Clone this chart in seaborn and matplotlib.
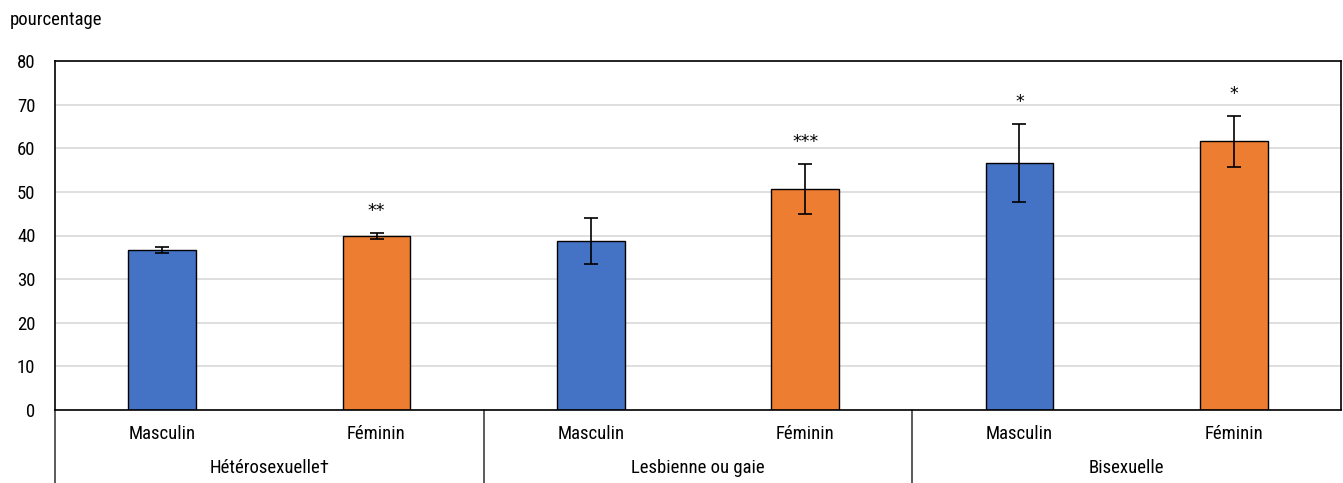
import matplotlib
matplotlib.use("Agg")
import matplotlib.pyplot as plt
import matplotlib.transforms as mtransforms
import seaborn as sns
import pandas as pd

# Data
groupes = ["Hétérosexuelle†", "Lesbienne ou gaie", "Bisexuelle"]
sexes = ["Masculin", "Féminin"]
valeurs = [36.6, 39.9, 38.7, 50.7, 56.6, 61.6]
erreurs = [0.7, 0.7, 5.3, 5.8, 9.0, 5.8]
signif = ["", "**", "", "***", "*", "*"]
y_ticks = [0, 10, 20, 30, 40, 50, 60, 70, 80]

rows = []
for gi, g in enumerate(groupes):
    for si, s in enumerate(sexes):
        k = gi * 2 + si
        rows.append({"cle": f"{g}|{s}", "groupe": g, "sexe": s,
                     "valeur": valeurs[k], "erreur": erreurs[k], "sig": signif[k]})
df = pd.DataFrame(rows)

sns.set_theme(style="white")
plt.rcParams["font.family"] = ["Nimbus Sans Narrow", "Liberation Sans Narrow",
                               "Roboto Condensed", "Archivo Narrow", "DejaVu Sans"]
FS = 13.5

fig = plt.figure(figsize=(13.43, 4.83), dpi=100)
ax = fig.add_axes([55 / 1343, (483 - 410) / 483, (1341 - 55) / 1343, (410 - 61) / 483])

sns.barplot(data=df, x="cle", y="valeur", hue="sexe", order=list(df["cle"]),
            hue_order=sexes, palette=["#4472C4", "#ED7D31"], saturation=1,
            dodge=False, width=0.317, edgecolor="black", linewidth=1.0,
            legend=False, ax=ax)

xs = list(range(len(df)))
ax.errorbar(xs, df["valeur"], yerr=df["erreur"], fmt="none", ecolor="black",
            elinewidth=1.2, capsize=5, capthick=1.2, zorder=5)

for x, v, e, s in zip(xs, df["valeur"], df["erreur"], df["sig"]):
    if s:
        ax.text(x, v + e + 5.0, s, ha="center", va="center", fontsize=12.5,
                family="DejaVu Sans", color="black")

ax.set_xlim(-0.5, len(df) - 0.5)
ax.set_ylim(0, 80)
ax.set_yticks(y_ticks)
ax.yaxis.grid(True, color="#d9d9d9", linewidth=1.2)
ax.set_axisbelow(True)
ax.tick_params(axis="y", length=0, pad=14, labelsize=FS, labelcolor="black")
ax.set_xticks([])
ax.set_xlabel("")
ax.set_ylabel("")
for sp in ax.spines.values():
    sp.set_visible(True)
    sp.set_color("black")
    sp.set_linewidth(1.2)

# Two-level category axis
trans = mtransforms.blended_transform_factory(ax.transData, fig.transFigure)
y_sexe = 1 - 434 / 483
y_groupe = 1 - 468 / 483
for x, s in zip(xs, df["sexe"]):
    ax.text(x, y_sexe, s, transform=trans, ha="center", va="center",
            fontsize=FS, color="black")
for gi, g in enumerate(groupes):
    ax.text(gi * 2 + 0.5, y_groupe, g, transform=trans, ha="center", va="center",
            fontsize=FS, color="black")
for xb in [-0.5, 1.5, 3.5]:
    ax.plot([xb, xb], [1 - 410 / 483, 0], transform=trans, color="#404040",
            linewidth=1.2, clip_on=False)

fig.text(10 / 1343, 1 - 20 / 483, "pourcentage", ha="left", va="center",
         fontsize=FS, color="black")

fig.savefig("out.png", dpi=100, facecolor="white")
